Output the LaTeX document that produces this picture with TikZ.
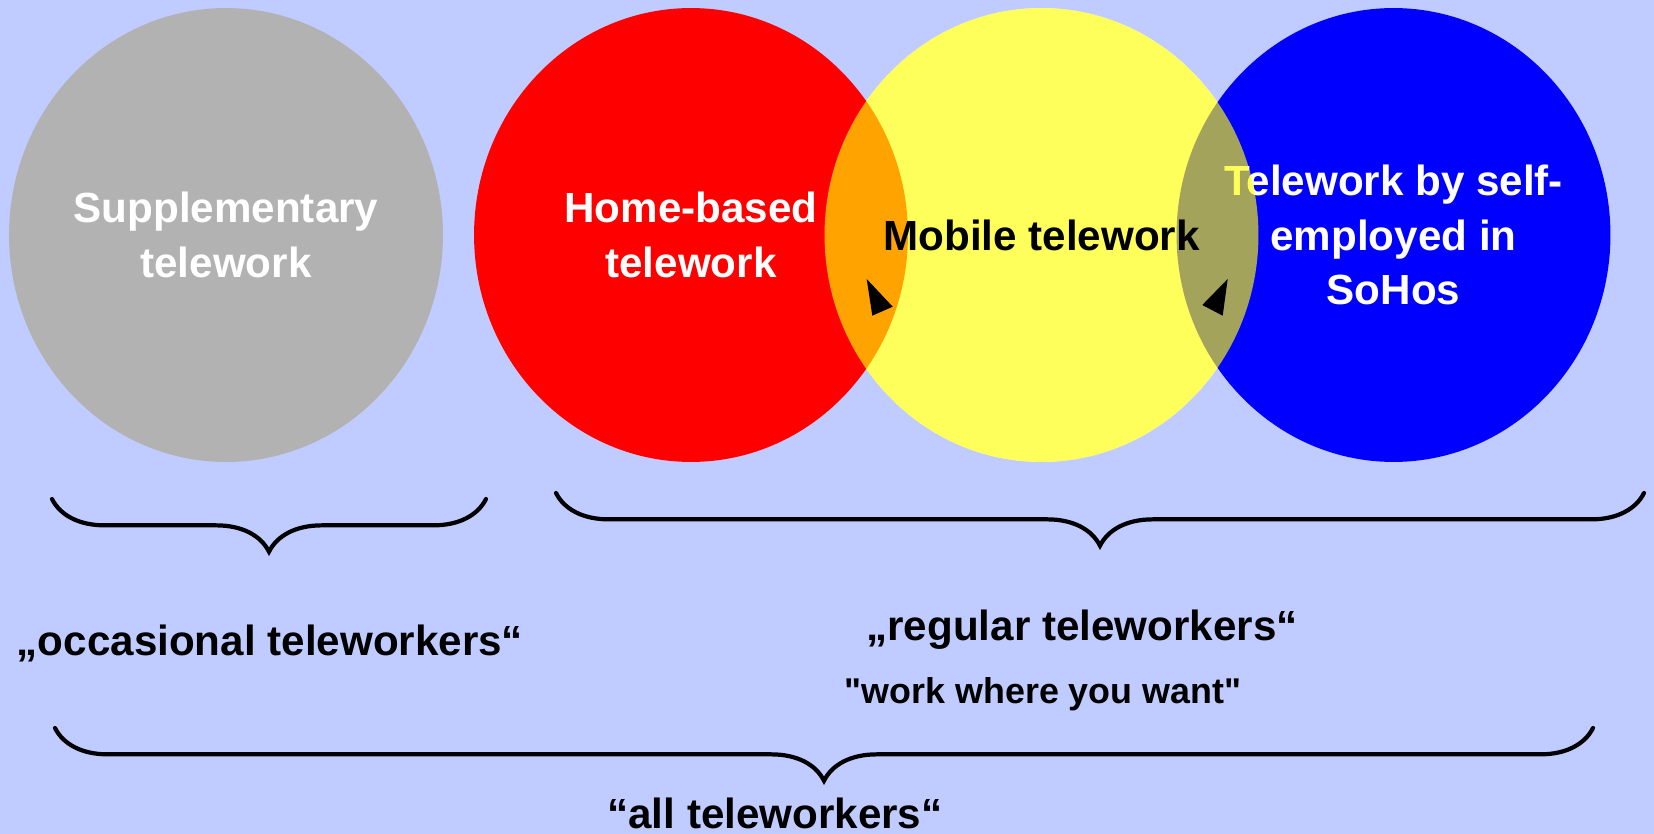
\documentclass[tikz,border=0pt]{standalone}
\usepackage{fontspec}
\setmainfont{Liberation Sans}[Ligatures=TeXOff]
\usepackage{xcolor}
\usetikzlibrary{shapes.geometric, decorations.pathreplacing, positioning}

\definecolor{bgblue}{RGB}{192,204,255}
\definecolor{suppgray}{RGB}{178,178,178}
\definecolor{homered}{RGB}{255,0,0}
\definecolor{sohoblue}{RGB}{0,0,255}
\definecolor{mobyellow}{RGB}{255,255,0}

\begin{document}
\begin{tikzpicture}[x=0.02cm, y=-0.02cm,
  blob/.style={ellipse, minimum width=8.68cm, minimum height=9.08cm, inner sep=0pt},
  blobtext/.style={align=center, inner sep=0pt, font=\bfseries\fontsize{24}{31.2}\selectfont},
  bracket/.style={decorate, decoration={brace, mirror, amplitude=30pt}, line width=2.4pt, line cap=round},
  caption/.style={anchor=base, font=\bfseries\fontsize{24}{29}\selectfont}]

% background and page size
\useasboundingbox (0,0) rectangle (1654,834);
\fill[bgblue] (0,0) rectangle (1654,834);

% the four kinds of telework
\node[blob, fill=white] (mobbase) at (1041.5,235) {};
\node[blob, fill=suppgray] (supp) at (226,235) {};
\node[blob, fill=homered] (home) at (691,235) {};
\node[blob, fill=sohoblue] (soho) at (1393.5,235) {};
\node[blobtext, text=white] (supptext) at (supp.center) {Supplementary\\telework};
\node[blobtext, text=white] (hometext) at (home.center) {Home-based\\telework};
\node[blobtext, text=white] (sohotext) at (soho.center) {Telework by self-\\employed in\\SoHos};
\node[blob, fill=mobyellow, fill opacity=0.64] (mobile) at (1041.5,235) {};
\node[blobtext, text=black] (mobiletext) at (mobile.center) {Mobile telework};

% pointers in the overlaps
\fill[black] (866.7,279) -- (872.3,315.7) -- (892.7,306.7) -- cycle;
\fill[black] (1227.7,279) -- (1222.7,315.7) -- (1202.3,305) -- cycle;

% braces
\coordinate (occL) at (52,499);
\coordinate (occR) at (486,499);
\coordinate (regL) at (556,493);
\coordinate (regR) at (1644,493);
\coordinate (allL) at (55,728);
\coordinate (allR) at (1593,728);
\draw[bracket] (occL) -- (occR);
\draw[bracket] (regL) -- (regR);
\draw[bracket] (allL) -- (allR);

% group labels
\node[caption] (occ) at (270,655) {„occasional teleworkers“};
\node[caption] (reg) at (1082,640) {„regular teleworkers“};
\node[caption, font=\bfseries\fontsize{20.4}{24}\selectfont] (where) at (1043,703) {"work where you want"};
\node[caption] (all) at (775,828) {“all teleworkers“};
\end{tikzpicture}
\end{document}
